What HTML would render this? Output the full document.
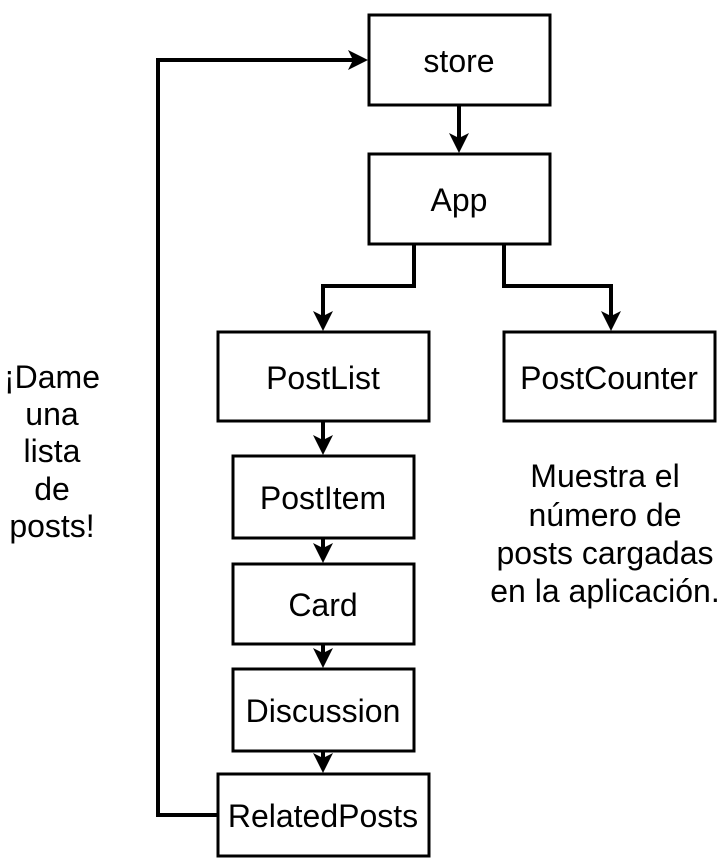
<!DOCTYPE html>
<html><head><meta charset="utf-8"><style>
html,body{margin:0;padding:0;background:#fff;}
svg{display:block;}
text{font-family:"Liberation Sans",Arial,sans-serif;font-size:32px;fill:#000;text-anchor:middle;dominant-baseline:central;}
</style></head><body>
<svg width="728" height="864" viewBox="0 0 728 864" xmlns="http://www.w3.org/2000/svg">
<g fill="#fff" stroke="#000" stroke-width="3">
<rect x="369" y="15" width="181" height="90"/>
<rect x="369" y="154" width="181" height="90"/>
<rect x="218" y="332" width="211" height="89"/>
<rect x="504" y="332" width="211" height="89"/>
<rect x="233" y="456" width="181" height="82"/>
<rect x="233" y="564" width="181" height="80"/>
<rect x="233" y="669" width="181" height="82"/>
<rect x="218" y="774" width="211" height="82"/>
</g>
<g fill="none" stroke="#000" stroke-width="4">
<polyline points="218,815 158,815 158,60 355,60"/>
<line x1="459" y1="105" x2="459" y2="140"/>
<polyline points="414,244 414,286 323,286 323,318"/>
<polyline points="504,244 504,286 611,286 611,318"/>
<line x1="323" y1="421" x2="323" y2="443"/>
<line x1="323" y1="538" x2="323" y2="551"/>
<line x1="323" y1="644" x2="323" y2="656"/>
<line x1="323" y1="751" x2="323" y2="761"/>
</g>
<g fill="#000">
<polygon points="368,60 348,50 353,60 348,70"/>
<polygon points="459,153 449,133 459,138 469,133"/>
<polygon points="323,331 313,311 323,316 333,311"/>
<polygon points="611,331 601,311 611,316 621,311"/>
<polygon points="323,455 313,435 323,440 333,435"/>
<polygon points="323,563 313,543 323,548 333,543"/>
<polygon points="323,668 313,648 323,653 333,648"/>
<polygon points="323,773 313,753 323,758 333,753"/>
</g>
<text x="459" y="61">store</text>
<text x="459" y="200">App</text>
<text x="323" y="378">PostList</text>
<text x="609" y="378">PostCounter</text>
<text x="323" y="498">PostItem</text>
<text x="323" y="605">Card</text>
<text x="323" y="711">Discussion</text>
<text x="323" y="816">RelatedPosts</text>
<text x="52" y="377">¡Dame</text>
<text x="52" y="414">una</text>
<text x="52" y="451">lista</text>
<text x="52" y="489">de</text>
<text x="52" y="526">posts!</text>
<text x="605" y="476">Muestra el</text>
<text x="605" y="515">número de</text>
<text x="605" y="553">posts cargadas</text>
<text x="605" y="591">en la aplicación.</text>
</svg>
</body></html>
